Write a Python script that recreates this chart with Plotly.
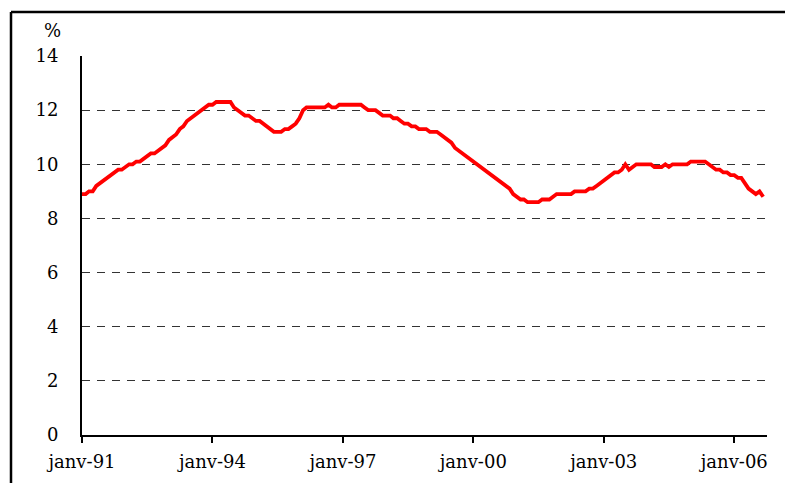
import plotly.graph_objects as go
import pandas as pd

# Monthly unemployment rate (%), janv-1991 .. sept-2006
months = pd.date_range("1991-01-01", periods=189, freq="MS")
rate = [
    # 1991
    8.9, 8.9, 9.0, 9.0, 9.2, 9.3, 9.4, 9.5, 9.6, 9.7, 9.8, 9.8,
    # 1992
    9.9, 10.0, 10.0, 10.1, 10.1, 10.2, 10.3, 10.4, 10.4, 10.5, 10.6, 10.7,
    # 1993
    10.9, 11.0, 11.1, 11.3, 11.4, 11.6, 11.7, 11.8, 11.9, 12.0, 12.1, 12.2,
    # 1994
    12.2, 12.3, 12.3, 12.3, 12.3, 12.3, 12.1, 12.0, 11.9, 11.8, 11.8, 11.7,
    # 1995
    11.6, 11.6, 11.5, 11.4, 11.3, 11.2, 11.2, 11.2, 11.3, 11.3, 11.4, 11.5,
    # 1996
    11.7, 12.0, 12.1, 12.1, 12.1, 12.1, 12.1, 12.1, 12.2, 12.1, 12.1, 12.2,
    # 1997
    12.2, 12.2, 12.2, 12.2, 12.2, 12.2, 12.1, 12.0, 12.0, 12.0, 11.9, 11.8,
    # 1998
    11.8, 11.8, 11.7, 11.7, 11.6, 11.5, 11.5, 11.4, 11.4, 11.3, 11.3, 11.3,
    # 1999
    11.2, 11.2, 11.2, 11.1, 11.0, 10.9, 10.8, 10.6, 10.5, 10.4, 10.3, 10.2,
    # 2000
    10.1, 10.0, 9.9, 9.8, 9.7, 9.6, 9.5, 9.4, 9.3, 9.2, 9.1, 8.9,
    # 2001
    8.8, 8.7, 8.7, 8.6, 8.6, 8.6, 8.6, 8.7, 8.7, 8.7, 8.8, 8.9,
    # 2002
    8.9, 8.9, 8.9, 8.9, 9.0, 9.0, 9.0, 9.0, 9.1, 9.1, 9.2, 9.3,
    # 2003
    9.4, 9.5, 9.6, 9.7, 9.7, 9.8, 10.0, 9.8, 9.9, 10.0, 10.0, 10.0,
    # 2004
    10.0, 10.0, 9.9, 9.9, 9.9, 10.0, 9.9, 10.0, 10.0, 10.0, 10.0, 10.0,
    # 2005
    10.1, 10.1, 10.1, 10.1, 10.1, 10.0, 9.9, 9.8, 9.8, 9.7, 9.7, 9.6,
    # 2006
    9.6, 9.5, 9.5, 9.3, 9.1, 9.0, 8.9, 9.0, 8.8,
]
tick_dates = ["1991-01-01", "1994-01-01", "1997-01-01", "2000-01-01", "2003-01-01", "2006-01-01"]
tick_labels = ["janv-91", "janv-94", "janv-97", "janv-00", "janv-03", "janv-06"]
y_ticks = [0, 2, 4, 6, 8, 10, 12, 14]

FONT = "DejaVu Serif"

# page body has an 8px margin: figure placed at (8, 8)
OFF = 8
W, H = 793 - OFF, 483 - OFF
L, R, T, B = 82 - OFF, 793 - 767, 56 - OFF, 483 - 435

fig = go.Figure()
fig.add_trace(go.Scatter(
    x=months, y=rate, mode="lines",
    line=dict(color="#FF0000", width=3.8),
    hoverinfo="skip", showlegend=False,
))

fig.update_layout(
    width=W, height=H,
    margin=dict(l=L, r=R, t=T, b=B),
    paper_bgcolor="white", plot_bgcolor="white",
    font=dict(family=FONT, size=18, color="black"),
    xaxis=dict(
        range=["1991-01-01", "2006-10-03"],
        tickvals=tick_dates, ticktext=tick_labels,
        showgrid=False, zeroline=False, automargin=False,
        showline=True, linecolor="black", linewidth=2,
        ticks="outside", ticklen=6, tickwidth=2, tickcolor="black",
        tickfont=dict(family=FONT, size=18, color="black"),
        ticklabelstandoff=3,
    ),
    yaxis=dict(
        range=[0, 14], tickvals=y_ticks, automargin=False,
        showgrid=True, gridcolor="#333333", gridwidth=1, griddash="8px,7px",
        zeroline=False,
        showline=True, linecolor="black", linewidth=2,
        ticks="", tickfont=dict(family=FONT, size=18, color="black"),
        ticklabelstandoff=18,
    ),
)

# "%" unit label
fig.add_annotation(
    text="%", xref="paper", yref="paper",
    x=-0.028, y=1.035, xanchor="right", yanchor="bottom",
    showarrow=False, font=dict(family=FONT, size=18, color="black"),
)

# outer frame (top and left edges), given in page pixels
plot_w = 767 - 82
plot_h = 435 - 56
def px_x(px):
    return (px - 82) / plot_w
def px_y(py):
    return (435 - py) / plot_h
fig.add_shape(type="line", xref="paper", yref="paper",
              x0=px_x(11), x1=px_x(800), y0=px_y(12), y1=px_y(12),
              line=dict(color="black", width=2.5))
fig.add_shape(type="line", xref="paper", yref="paper",
              x0=px_x(11), x1=px_x(11), y0=px_y(12), y1=px_y(490),
              line=dict(color="black", width=2.5))

fig.write_html("out.html")
